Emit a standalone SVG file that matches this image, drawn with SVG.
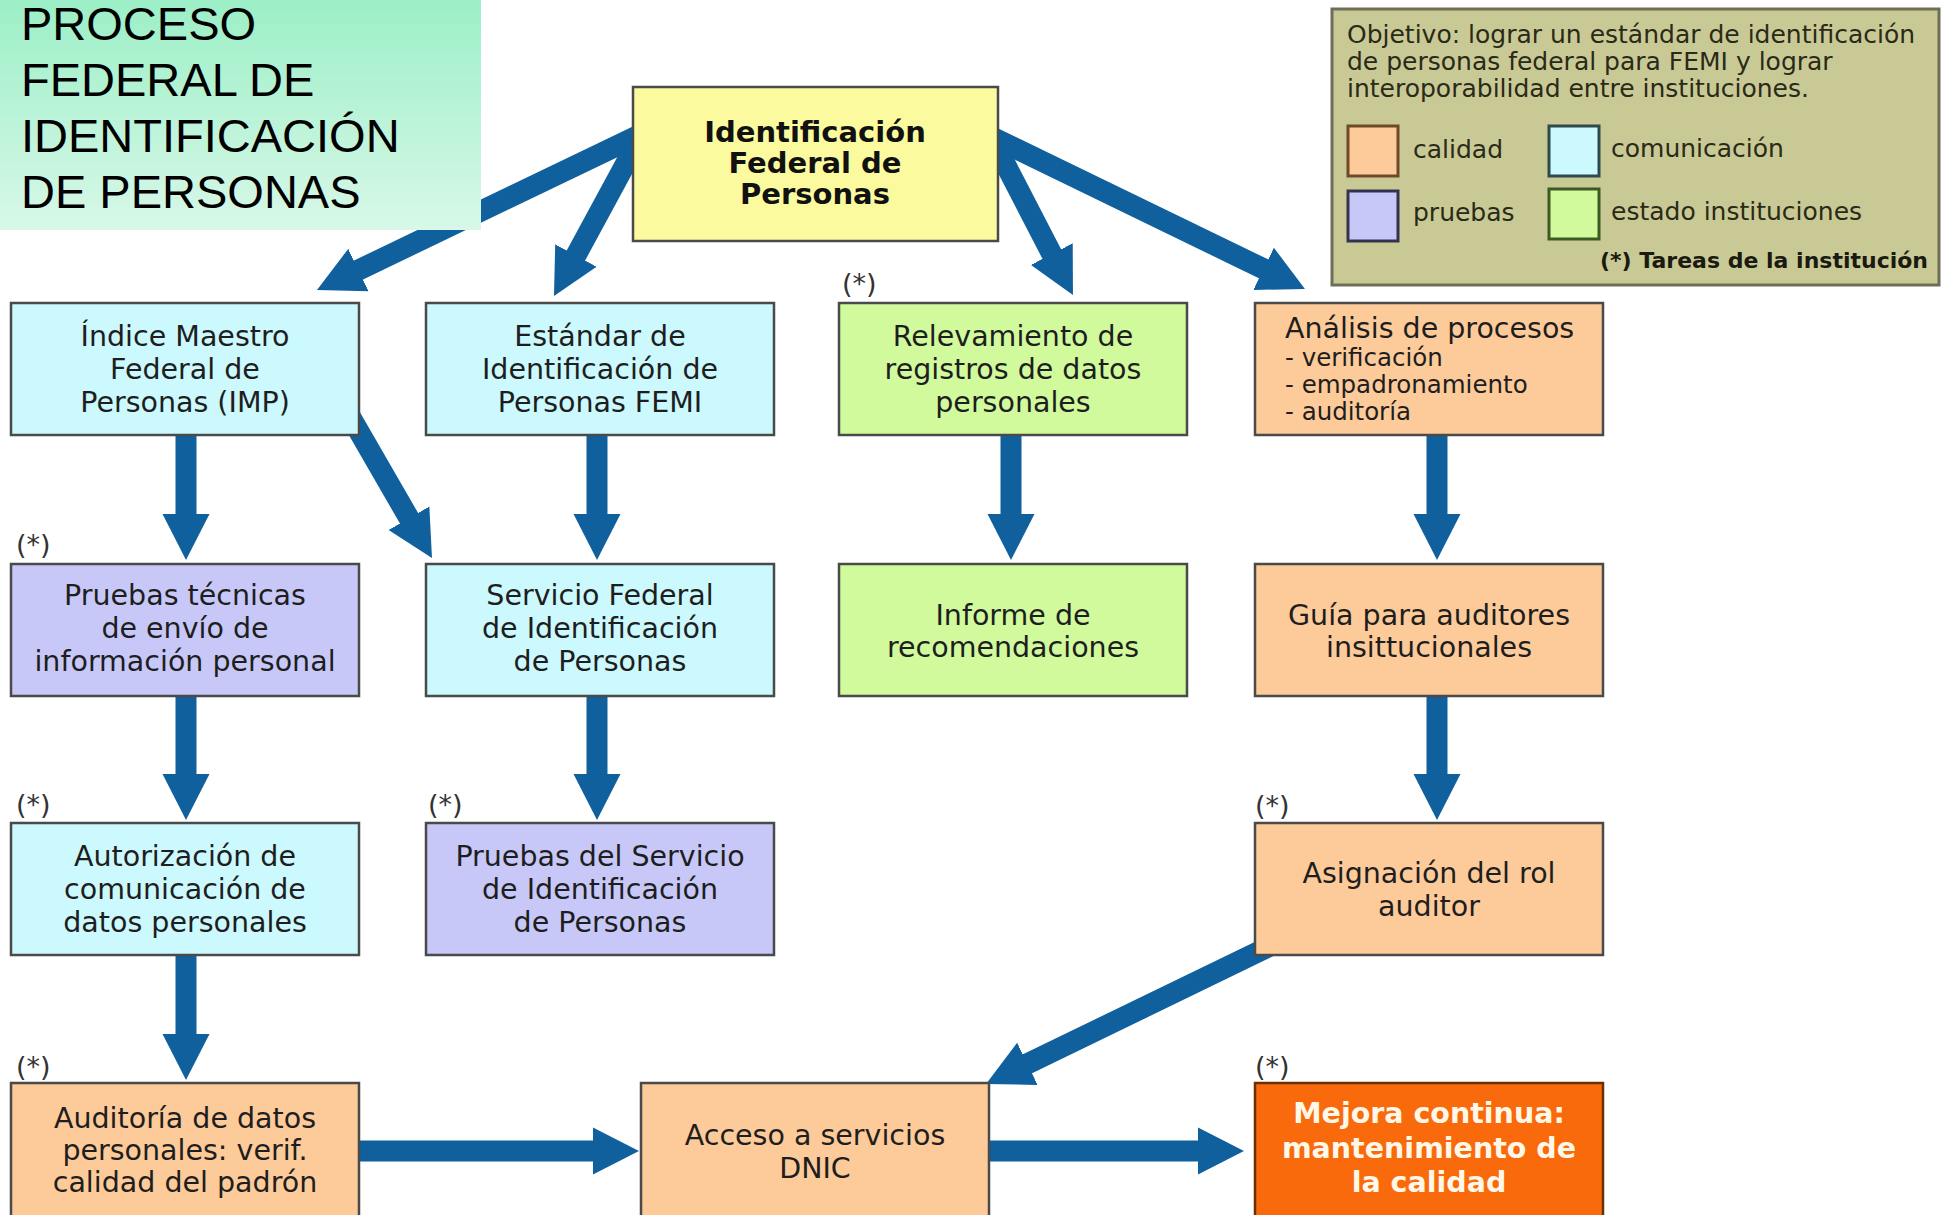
<svg xmlns="http://www.w3.org/2000/svg" width="1941" height="1215" viewBox="0 0 1941 1215">
<defs>
<linearGradient id="titleGrad" x1="0" y1="0" x2="0" y2="1">
<stop offset="0" stop-color="#9cefc7"/>
<stop offset="1" stop-color="#d8f8e8"/>
</linearGradient>
<marker id="ah" markerUnits="userSpaceOnUse" markerWidth="46" markerHeight="48" viewBox="0 0 45 46" refX="1" refY="23" orient="auto">
<path d="M0,0 L45,23 L0,46 z" fill="#10609e"/>
</marker>
<style>
.box{stroke:#4a4a4a;stroke-width:2.5}
.cyan{fill:#cbf9fd}
.lav{fill:#c8c8f8}
.green{fill:#d0fa9c}
.peach{fill:#fdca99}
.yellow{fill:#fbfa9e}
.orange{fill:#f96a0c;stroke:#6a3000}
.t{font-family:"DejaVu Sans",Verdana,sans-serif;font-size:28.5px;fill:#1e1e1e;text-anchor:middle}
.tb{font-family:"DejaVu Sans",Verdana,sans-serif;font-size:29px;font-weight:bold;fill:#111;text-anchor:middle}
.tw{font-family:"DejaVu Sans",Verdana,sans-serif;font-size:28.5px;font-weight:bold;fill:#fff8e8;text-anchor:middle}
.ts{font-family:"DejaVu Sans",Verdana,sans-serif;font-size:24.5px;fill:#1e1e1e}
.star{font-family:"DejaVu Sans",Verdana,sans-serif;font-size:27px;fill:#333}
.lg{font-family:"DejaVu Sans",Verdana,sans-serif;font-size:25px;fill:#2a2a18}
.lgb{font-family:"DejaVu Sans",Verdana,sans-serif;font-size:22px;font-weight:bold;fill:#1a1a10;text-anchor:end}
.title{font-family:"Liberation Sans",Arial,sans-serif;font-size:47px;fill:#000}
.arr{stroke:#10609e;stroke-width:21;fill:none;marker-end:url(#ah)}
</style>
</defs>
<rect x="0" y="0" width="1941" height="1215" fill="#ffffff"/>

<g id="connectors">
<line class="arr" x1="642" y1="133.7" x2="357.5" y2="270.5"/>
<line class="arr" x1="637.8" y1="141.2" x2="575.4" y2="256.4"/>
<line class="arr" x1="993.4" y1="141.1" x2="1052.3" y2="255"/>
<line class="arr" x1="989" y1="135.6" x2="1264.5" y2="269.3"/>
<line class="arr" x1="186" y1="430" x2="186" y2="515"/>
<line class="arr" x1="597" y1="430" x2="597" y2="515"/>
<line class="arr" x1="1011" y1="430" x2="1011" y2="515"/>
<line class="arr" x1="1437" y1="430" x2="1437" y2="515"/>
<line class="arr" x1="350" y1="416" x2="409.5" y2="519.1"/>
<line class="arr" x1="186" y1="690" x2="186" y2="775"/>
<line class="arr" x1="597" y1="690" x2="597" y2="775"/>
<line class="arr" x1="1437" y1="690" x2="1437" y2="775"/>
<line class="arr" x1="186" y1="950" x2="186" y2="1035"/>
<line class="arr" x1="1271" y1="945.6" x2="1026.5" y2="1064.3"/>
<line class="arr" x1="355" y1="1151" x2="594" y2="1151"/>
<line class="arr" x1="985" y1="1151" x2="1199" y2="1151"/>
</g>

<g id="node-identificacion">
<rect class="box yellow" x="633" y="87" width="365" height="154"/>
<text class="tb" x="815" y="142">Identificación</text>
<text class="tb" x="815" y="173">Federal de</text>
<text class="tb" x="815" y="204">Personas</text>
</g>

<g id="node-indice">
<rect class="box cyan" x="11" y="303" width="348" height="132"/>
<text class="t" x="185" y="346">Índice Maestro</text>
<text class="t" x="185" y="379">Federal de</text>
<text class="t" x="185" y="412">Personas (IMP)</text>
</g>

<g id="node-estandar">
<rect class="box cyan" x="426" y="303" width="348" height="132"/>
<text class="t" x="600" y="346">Estándar de</text>
<text class="t" x="600" y="379">Identificación de</text>
<text class="t" x="600" y="412">Personas FEMI</text>
</g>

<g id="node-relevamiento">
<text class="star" x="842" y="293">(*)</text>
<rect class="box green" x="839" y="303" width="348" height="132"/>
<text class="t" x="1013" y="346">Relevamiento de</text>
<text class="t" x="1013" y="379">registros de datos</text>
<text class="t" x="1013" y="412">personales</text>
</g>

<g id="node-analisis">
<rect class="box peach" x="1255" y="303" width="348" height="132"/>
<text class="t" x="1285" y="338" style="text-anchor:start">Análisis de procesos</text>
<text class="ts" x="1285" y="366">- verificación</text>
<text class="ts" x="1285" y="393">- empadronamiento</text>
<text class="ts" x="1285" y="420">- auditoría</text>
</g>

<g id="node-pruebas-tecnicas">
<text class="star" x="16" y="554">(*)</text>
<rect class="box lav" x="11" y="564" width="348" height="132"/>
<text class="t" x="185" y="605">Pruebas técnicas</text>
<text class="t" x="185" y="638">de envío de</text>
<text class="t" x="185" y="671">información personal</text>
</g>

<g id="node-servicio-federal">
<rect class="box cyan" x="426" y="564" width="348" height="132"/>
<text class="t" x="600" y="605">Servicio Federal</text>
<text class="t" x="600" y="638">de Identificación</text>
<text class="t" x="600" y="671">de Personas</text>
</g>

<g id="node-informe">
<rect class="box green" x="839" y="564" width="348" height="132"/>
<text class="t" x="1013" y="625">Informe de</text>
<text class="t" x="1013" y="657">recomendaciones</text>
</g>

<g id="node-guia">
<rect class="box peach" x="1255" y="564" width="348" height="132"/>
<text class="t" x="1429" y="625">Guía para auditores</text>
<text class="t" x="1429" y="657">insittucionales</text>
</g>

<g id="node-autorizacion">
<text class="star" x="16" y="814">(*)</text>
<rect class="box cyan" x="11" y="823" width="348" height="132"/>
<text class="t" x="185" y="866">Autorización de</text>
<text class="t" x="185" y="899">comunicación de</text>
<text class="t" x="185" y="932">datos personales</text>
</g>

<g id="node-pruebas-servicio">
<text class="star" x="428" y="814">(*)</text>
<rect class="box lav" x="426" y="823" width="348" height="132"/>
<text class="t" x="600" y="866">Pruebas del Servicio</text>
<text class="t" x="600" y="899">de Identificación</text>
<text class="t" x="600" y="932">de Personas</text>
</g>

<g id="node-asignacion">
<text class="star" x="1255" y="815">(*)</text>
<rect class="box peach" x="1255" y="823" width="348" height="132"/>
<text class="t" x="1429" y="883">Asignación del rol</text>
<text class="t" x="1429" y="916">auditor</text>
</g>

<g id="node-auditoria">
<text class="star" x="16" y="1076">(*)</text>
<rect class="box peach" x="11" y="1083" width="348" height="134"/>
<text class="t" x="185" y="1128">Auditoría de datos</text>
<text class="t" x="185" y="1160">personales: verif.</text>
<text class="t" x="185" y="1192">calidad del padrón</text>
</g>

<g id="node-acceso">
<rect class="box peach" x="641" y="1083" width="348" height="134"/>
<text class="t" x="815" y="1145">Acceso a servicios</text>
<text class="t" x="815" y="1178">DNIC</text>
</g>

<g id="node-mejora">
<text class="star" x="1255" y="1076">(*)</text>
<rect class="box orange" x="1255" y="1083" width="348" height="134"/>
<text class="tw" x="1429" y="1123">Mejora continua:</text>
<text class="tw" x="1429" y="1158">mantenimiento de</text>
<text class="tw" x="1429" y="1192">la calidad</text>
</g>

<g id="legend">
<rect x="1332" y="9" width="607" height="276" fill="#c9c995" stroke="#6e6e58" stroke-width="3"/>
<text class="lg" x="1347" y="43">Objetivo: lograr un estándar de identificación</text>
<text class="lg" x="1347" y="70">de personas federal para FEMI y lograr</text>
<text class="lg" x="1347" y="97">interoporabilidad entre instituciones.</text>
<rect x="1348" y="126" width="50" height="50" fill="#fdca99" stroke="#6e4a2a" stroke-width="3"/>
<text class="lg" x="1413" y="158">calidad</text>
<rect x="1549" y="126" width="50" height="50" fill="#cbf9fd" stroke="#2e4a4e" stroke-width="3"/>
<text class="lg" x="1611" y="157">comunicación</text>
<rect x="1348" y="191" width="50" height="50" fill="#c8c8f8" stroke="#33334e" stroke-width="3"/>
<text class="lg" x="1413" y="221">pruebas</text>
<rect x="1549" y="189" width="50" height="50" fill="#d0fa9c" stroke="#3d5a22" stroke-width="3"/>
<text class="lg" x="1611" y="220">estado instituciones</text>
<text class="lgb" x="1928" y="268">(*) Tareas de la institución</text>
</g>

<g id="title">
<rect x="0" y="0" width="481" height="230" fill="url(#titleGrad)"/>
<text class="title" x="21" y="40">PROCESO</text>
<text class="title" x="21" y="96">FEDERAL DE</text>
<text class="title" x="21" y="152">IDENTIFICACIÓN</text>
<text class="title" x="21" y="208">DE PERSONAS</text>
</g>
</svg>
